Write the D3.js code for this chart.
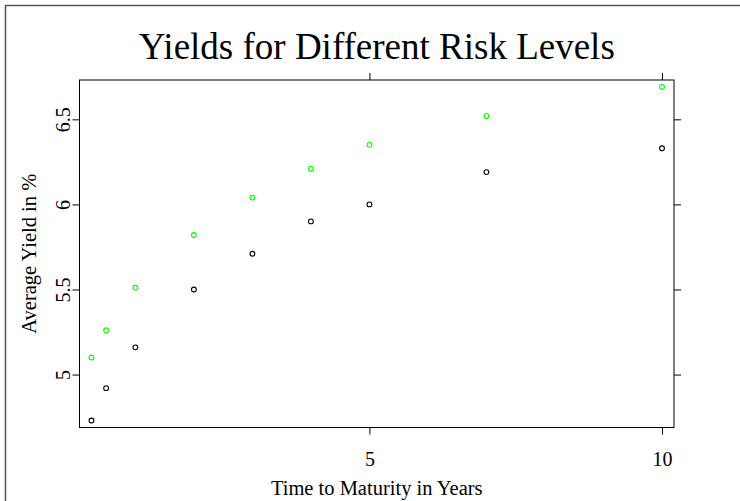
<!DOCTYPE html>
<html>
<head>
<meta charset="utf-8">
<script src="https://cdn.jsdelivr.net/npm/d3@7"></script>
<style>
  body { margin: 0; background: #fff; }
  svg text { font-family: "Liberation Serif", "Times New Roman", serif; fill: #000; }
</style>
</head>
<body>
<div id="chart"></div>
<script>
// time to maturity (years) and average yields (%) for the two risk levels
var maturity = [0.25, 0.5, 1, 2, 3, 4, 5, 7, 10];
var yieldLowRisk = [4.73, 4.92, 5.16, 5.50, 5.71, 5.90, 6.00, 6.19, 6.33];
var yieldHighRisk = [5.10, 5.26, 5.51, 5.82, 6.04, 6.21, 6.35, 6.52, 6.69];
var xTicks = [5, 10];
var yTicks = [5, 5.5, 6, 6.5];

var width = 740, height = 501;
var panel = {left: 79.5, right: 674, top: 80, bottom: 427.5};

var svg = d3.select("#chart").append("svg")
  .attr("width", width)
  .attr("height", height);

// outer frame (cut off at right and bottom)
svg.append("rect")
  .attr("x", 5.5).attr("y", 5.5)
  .attr("width", width + 20).attr("height", height + 20)
  .attr("fill", "none")
  .attr("stroke", "#555")
  .attr("stroke-width", 1.5);

function padded(ext, f) {
  var d = (ext[1] - ext[0]) * f;
  return [ext[0] - d, ext[1] + d];
}

var x = d3.scaleLinear()
  .domain(padded(d3.extent(maturity), 0.021))
  .range([panel.left, panel.right]);
var y = d3.scaleLinear()
  .domain(padded(d3.extent(yieldLowRisk.concat(yieldHighRisk)), 0.021))
  .range([panel.bottom, panel.top]);

function styleAxis(g) {
  g.select(".domain").remove();
  g.selectAll(".tick line").attr("stroke", "#000");
  g.selectAll(".tick text")
    .style("font-family", '"Liberation Serif", "Times New Roman", serif')
    .style("font-size", "20px")
    .attr("fill", "#000");
}

svg.append("g")
  .attr("transform", "translate(0," + panel.bottom + ")")
  .call(d3.axisBottom(x).tickValues(xTicks).tickSize(7).tickPadding(17).tickFormat(d3.format("d")))
  .call(styleAxis);

svg.append("g")
  .attr("transform", "translate(0," + panel.top + ")")
  .call(d3.axisTop(x).tickValues(xTicks).tickSize(7).tickFormat(""))
  .call(styleAxis);

var yAxisG = svg.append("g")
  .attr("transform", "translate(" + panel.left + ",0)")
  .call(d3.axisLeft(y).tickValues(yTicks).tickSize(7).tickFormat(d3.format("")))
  .call(styleAxis);
yAxisG.selectAll(".tick text")
  .attr("x", null).attr("dy", null)
  .attr("text-anchor", "middle")
  .attr("transform", "translate(-10,0) rotate(-90)");

svg.append("g")
  .attr("transform", "translate(" + panel.right + ",0)")
  .call(d3.axisRight(y).tickValues(yTicks).tickSize(7).tickFormat(""))
  .call(styleAxis);

// panel border
svg.append("rect")
  .attr("x", panel.left).attr("y", panel.top)
  .attr("width", panel.right - panel.left).attr("height", panel.bottom - panel.top)
  .attr("fill", "none")
  .attr("stroke", "#000")
  .attr("stroke-width", 1);

function drawPoints(vals, color) {
  svg.append("g").selectAll("circle")
    .data(maturity)
    .join("circle")
    .attr("cx", function(d) { return x(d); })
    .attr("cy", function(d, i) { return y(vals[i]); })
    .attr("r", 2.4)
    .attr("fill", "none")
    .attr("stroke", color)
    .attr("stroke-width", 1.1);
}
drawPoints(yieldLowRisk, "#000");
drawPoints(yieldHighRisk, "#00ff00");

svg.append("text")
  .attr("x", (panel.left + panel.right) / 2)
  .attr("y", 59)
  .attr("text-anchor", "middle")
  .style("font-size", "37px")
  .text("Yields for Different Risk Levels");

svg.append("text")
  .attr("x", (panel.left + panel.right) / 2)
  .attr("y", 495)
  .attr("text-anchor", "middle")
  .style("font-size", "20.5px")
  .text("Time to Maturity in Years");

svg.append("text")
  .attr("transform", "translate(36," + ((panel.top + panel.bottom) / 2) + ") rotate(-90)")
  .attr("text-anchor", "middle")
  .style("font-size", "20.5px")
  .text("Average Yield in %");
</script>
</body>
</html>
